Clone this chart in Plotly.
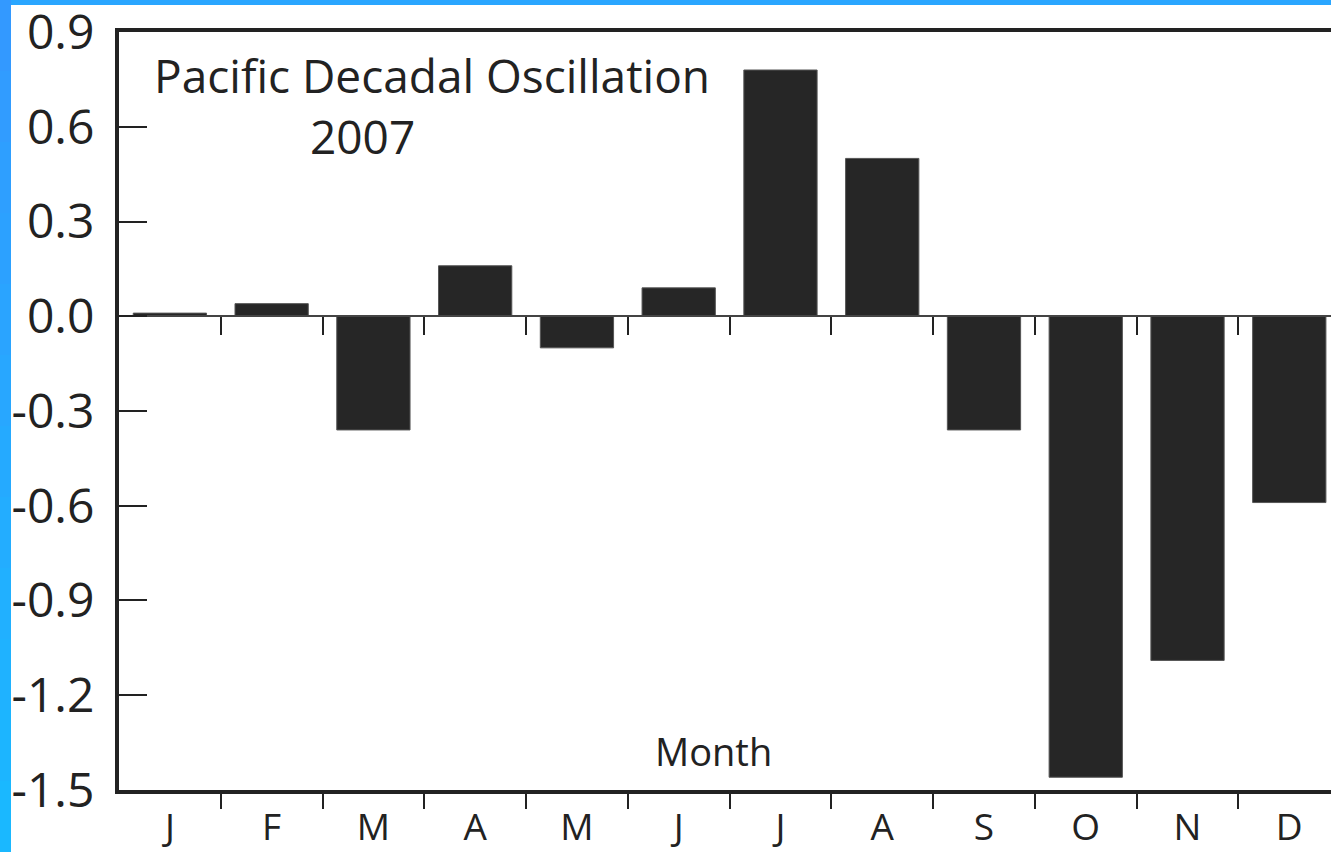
import plotly.graph_objects as go

months = ["J", "F", "M", "A", "M", "J", "J", "A", "S", "O", "N", "D"]
pdo_2007 = [0.01, 0.04, -0.36, 0.16, -0.10, 0.09, 0.78, 0.50, -0.36, -1.46, -1.09, -0.59]
y_ticks = [0.9, 0.6, 0.3, 0.0, -0.3, -0.6, -0.9, -1.2, -1.5]
y_tick_text = ["0.9", "0.6", "0.3", "0.0", "-0.3", "-0.6", "-0.9", "-1.2", "-1.5"]

x_pos = list(range(len(months)))
boundaries = [i + 0.5 for i in range(len(months) - 1)]
x_range = [-0.5, 11.41]
y_range = [-1.5004, 0.9004]

W, H = 1331, 852
L, R, T, B = 119, 0, 32, 62
pw, ph = W - L - R, H - T - B

def px_x(p):
    return (p - L) / pw

def px_y(p):
    return 1 - (p - T) / ph

ink = "#222222"
font = "Open Sans"

fig = go.Figure()
fig.add_trace(go.Bar(x=x_pos, y=pdo_2007, width=0.72,
                     marker=dict(color="#262626", line=dict(color="#555555", width=1)),
                     hoverinfo="skip", showlegend=False))
# helper invisible traces so overlay axes render
fig.add_trace(go.Scatter(x=[0], y=[0], xaxis="x2", mode="markers",
                         marker=dict(opacity=0), hoverinfo="skip", showlegend=False))
fig.add_trace(go.Scatter(x=[0], y=[0], xaxis="x3", mode="markers",
                         marker=dict(opacity=0), hoverinfo="skip", showlegend=False))

zero_pos = (0 - y_range[0]) / (y_range[1] - y_range[0])

fig.update_layout(
    width=W, height=H,
    margin=dict(l=L, r=R, t=T, b=B, pad=0, autoexpand=False),
    paper_bgcolor="#2aa6ff",
    plot_bgcolor="white",
    showlegend=False,
    xaxis=dict(range=x_range, tickvals=x_pos, ticktext=months, ticks="",
               showline=True, linecolor=ink, linewidth=4, mirror=True,
               showgrid=False, zeroline=False, fixedrange=True, automargin=False,
               ticklabeloverflow="allow",
               tickfont=dict(family=font, size=37, color=ink), ticklabelstandoff=2),
    xaxis3=dict(range=x_range, overlaying="x", anchor="y", side="bottom",
                tickvals=boundaries, ticks="outside", ticklen=18, tickwidth=2, tickcolor=ink,
                showticklabels=False, showline=False, showgrid=False, zeroline=False,
                automargin=False),
    xaxis2=dict(range=x_range, overlaying="x", anchor="free", position=zero_pos, side="bottom",
                tickvals=boundaries, ticks="outside", ticklen=18, tickwidth=2, tickcolor=ink,
                showticklabels=False, showline=True, linecolor="#444444", linewidth=2,
                showgrid=False, zeroline=False, automargin=False),
    yaxis=dict(range=y_range, tickvals=y_ticks, ticktext=y_tick_text,
               ticks="inside", ticklen=28, tickwidth=2, tickcolor=ink,
               showline=True, linecolor=ink, linewidth=4, mirror=False,
               showgrid=False, zeroline=False, fixedrange=True, automargin=False,
               ticklabeloverflow="allow",
               tickfont=dict(family=font, size=48, color=ink), ticklabelstandoff=11),
    annotations=[
        dict(text="Pacific Decadal Oscillation", xref="paper", yref="paper",
             x=px_x(152), y=px_y(75), xanchor="left", yanchor="middle", showarrow=False,
             font=dict(family=font, size=46, color=ink)),
        dict(text="2007", xref="paper", yref="paper",
             x=px_x(362), y=px_y(136), xanchor="center", yanchor="middle", showarrow=False,
             font=dict(family=font, size=46, color=ink)),
        dict(text="Month", xref="paper", yref="paper",
             x=px_x(713), y=px_y(751), xanchor="center", yanchor="middle", showarrow=False,
             font=dict(family=font, size=38, color=ink)),
    ],
)

# white page area over blue frame, and gradient left strip
shapes = [dict(type="rect", xref="paper", yref="paper", layer="below",
               x0=px_x(11), x1=1.05, y0=-0.2, y1=px_y(5),
               fillcolor="white", line=dict(width=0))]
n = 12
c_top = (0x33, 0x99, 0xff)
c_bot = (0x1a, 0xb8, 0xff)
for i in range(n):
    t = i / (n - 1)
    c = tuple(int(round(a + (b - a) * t)) for a, b in zip(c_top, c_bot))
    shapes.append(dict(type="rect", xref="paper", yref="paper", layer="below",
                       x0=px_x(0), x1=px_x(11),
                       y0=px_y(H * (i + 1) / n), y1=px_y(H * i / n),
                       fillcolor="rgb(%d,%d,%d)" % c, line=dict(width=0)))
fig.update_layout(shapes=shapes)

fig.write_html("out.html", config={"displayModeBar": False},
               post_script="document.body.style.margin='0';document.body.style.overflow='hidden';")
